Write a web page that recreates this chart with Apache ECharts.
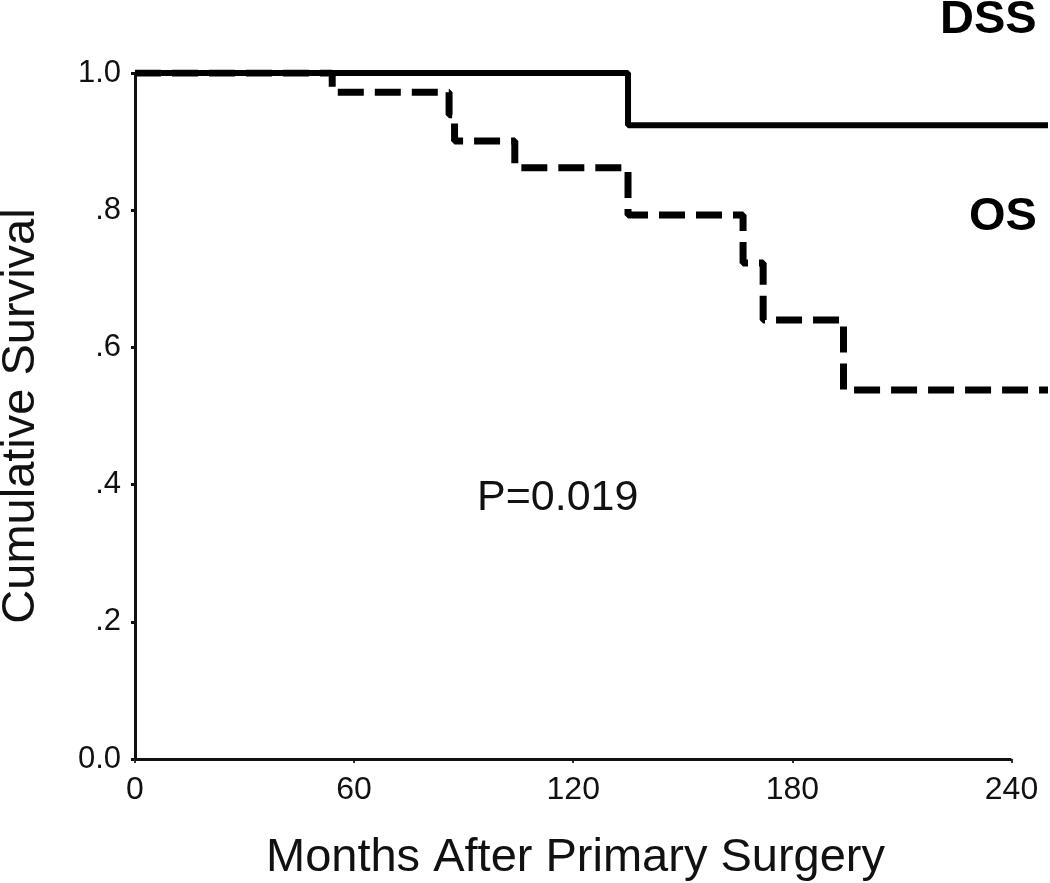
<!DOCTYPE html>
<html>
<head>
<meta charset="utf-8">
<script src="https://cdn.jsdelivr.net/npm/echarts@6/dist/echarts.min.js"></script>
<style>
  html, body { margin: 0; padding: 0; background: #fff; }
  #chart { width: 1050px; height: 883px; }
</style>
</head>
<body>
<div id="chart"></div>
<script>
// Kaplan-Meier steps: [month, cumulative survival]
var dssCurve = [[0, 1.0], [135, 0.924], [250, 0.924]];
var osCurve = [
    [0, 1.0], [54, 0.972], [86, 0.939], [87.5, 0.901], [104, 0.862],
    [135, 0.793], [166.5, 0.723], [172, 0.64], [194, 0.538], [250, 0.538]
];
var xTicks = [0, 60, 120, 180, 240];
var yTicks = [0, 0.2, 0.4, 0.6, 0.8, 1];
var yTickLabels = ['0.0', '.2', '.4', '.6', '.8', '1.0'];
var pText = 'P=0.019';

var myChart = echarts.init(document.getElementById('chart'));
var font = 'Liberation Sans, Arial, sans-serif';

myChart.setOption({
    animation: false,
    grid: {left: 135, right: 2, top: 73, bottom: 124, containLabel: false, outerBoundsMode: 'none'},
    xAxis: {
        type: 'value',
        min: 0,
        max: 250,
        interval: 60,
        name: 'Months After Primary Surgery',
        nameLocation: 'middle',
        nameGap: 76,
        nameTextStyle: {fontFamily: font, fontSize: 47, color: '#111', padding: [0, 32, 0, 0]},
        splitLine: {show: false},
        axisLine: {show: false},
        axisTick: {show: true, length: 4, customValues: xTicks, lineStyle: {color: '#333', width: 2}},
        axisLabel: {
            fontFamily: font, fontSize: 32, color: '#111', margin: 15,
            customValues: xTicks
        }
    },
    yAxis: {
        type: 'value',
        min: 0,
        max: 1,
        interval: 0.2,
        name: 'Cumulative Survival',
        nameLocation: 'middle',
        nameGap: 90,
        nameTextStyle: {fontFamily: font, fontSize: 47, color: '#111'},
        splitLine: {show: false},
        axisLine: {show: true, lineStyle: {color: '#111', width: 3}},
        axisTick: {show: true, length: 4, lineStyle: {color: '#111', width: 3}},
        axisLabel: {
            fontFamily: font, fontSize: 31, color: '#111', margin: 14,
            formatter: function (v) {
                for (var i = 0; i < yTicks.length; i++) {
                    if (Math.abs(yTicks[i] - v) < 1e-6) return yTickLabels[i];
                }
                return '';
            }
        }
    },
    graphic: [
        {type: 'text', left: 940, top: -3,
            style: {text: 'DSS', font: 'bold 47px ' + font, fill: '#000'}},
        {type: 'text', left: 969, top: 194,
            style: {text: 'OS', font: 'bold 47px ' + font, fill: '#000'}},
        {type: 'text', left: 477, top: 477,
            style: {text: pText, font: '43px ' + font, fill: '#111'}}
    ],
    series: [
        {
            name: 'DSS',
            type: 'line',
            step: 'end',
            symbol: 'none',
            data: dssCurve,
            lineStyle: {color: '#000', width: 6, cap: 'butt'},
            // x axis line stops at 240 months while the curves run on
            markLine: {
                silent: true,
                symbol: 'none',
                label: {show: false},
                lineStyle: {color: '#111', width: 3, type: 'solid'},
                data: [[{coord: [0, 0]}, {coord: [240, 0]}]]
            }
        },
        {
            name: 'OS',
            type: 'line',
            step: 'end',
            symbol: 'none',
            data: osCurve,
            lineStyle: {color: '#000', width: 7, type: [26, 11], cap: 'butt'}
        }
    ]
});
</script>
</body>
</html>
